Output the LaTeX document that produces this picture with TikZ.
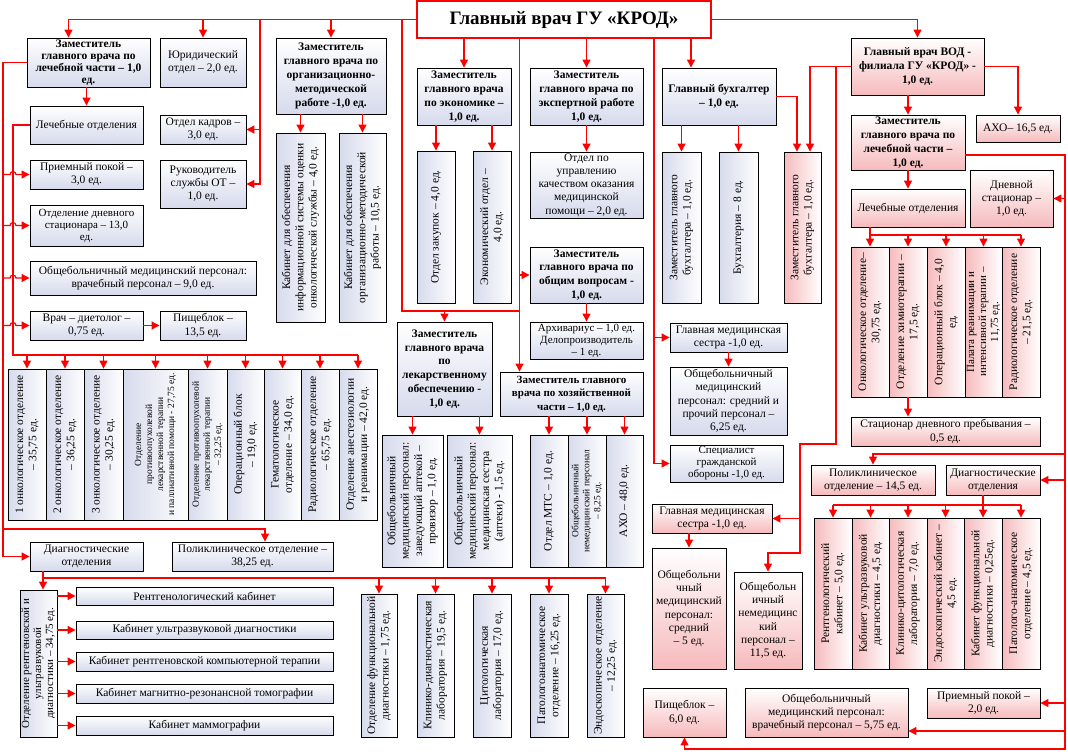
\documentclass[tikz,border=0pt]{standalone}
\usepackage{fontspec}
\setmainfont{Liberation Serif}
\usetikzlibrary{arrows.meta}
\definecolor{boxblue}{RGB}{214,218,236}
\definecolor{boxpink}{RGB}{246,186,188}
\definecolor{linkred}{RGB}{255,0,0}
\tikzset{
  txt/.style={font=\fontsize{11.5}{13.3}\selectfont},
  tight/.style={font=\fontsize{11}{12}\selectfont},
  small/.style={font=\fontsize{9.5}{11}\selectfont},
  box/.style={draw=black, line width=0.9pt, top color=white, bottom color=boxblue,
    inner sep=1pt, align=center, txt},
  pbox/.style={box, bottom color=boxpink},
  head/.style={box, font=\fontsize{11.5}{13.8}\selectfont\bfseries},
  phead/.style={head, bottom color=boxpink},
  rbox/.style={draw=black, line width=0.9pt, left color=boxblue, right color=white,
    rotate=90, inner sep=1pt, align=center, txt},
  prbox/.style={rbox, left color=boxpink},
  chief/.style={draw=linkred, line width=1.2pt, fill=white, inner sep=1pt,
    font=\fontsize{19}{22}\selectfont\bfseries},
  link/.style={draw=linkred, line width=1.2pt},
  arr/.style={link, -{Triangle[length=8pt,width=8pt]}},
}
% box from its corners: [style]{name}{x1}{y1}{x2}{y2}{text}
\newcommand\orgbox[7][box]{%
  \node[#1, minimum width={#5pt-#3pt}, minimum height={#6pt-#4pt}] (#2)
    at ({(#3+#5)/2},{(#4+#6)/2}) {#7};}
% the same, text turned upwards
\newcommand\orgrot[7][rbox]{%
  \node[#1, minimum width={#6pt-#4pt}, minimum height={#5pt-#3pt}] (#2)
    at ({(#3+#5)/2},{(#4+#6)/2}) {#7};}
\begin{document}
\begin{tikzpicture}[x=1pt,y=-1pt]
  \useasboundingbox (0,0) rectangle (1068,752);

  % head
  \orgbox[chief]{glav}{417}{1}{711}{38}{Главный врач ГУ «КРОД»}

  % left column
  \orgbox[head,font=\fontsize{11.5}{12}\selectfont\bfseries]{zl}{27}{38}{150}{87}{Заместитель\\главного врача по\\лечебной части – 1,0\\ед.}
  \orgbox{jur}{160}{38}{246}{87}{Юридический\\отдел – 2,0 ед.}
  \orgbox{lo}{30}{106}{143}{144}{Лечебные отделения}
  \orgbox{kadr}{160}{115}{246}{144}{Отдел кадров –\\3,0 ед.}
  \orgbox{pp}{30}{160}{143}{189}{Приемный покой –\\3,0 ед.}
  \orgbox{ot}{160}{160}{246}{208}{Руководитель\\службы ОТ –\\1,0 ед.}
  \orgbox[box,tight]{ds}{30}{205}{143}{246}{Отделение дневного\\стационара – 13,0\\ед.}
  \orgbox{omp}{30}{261}{256}{295}{Общебольничный медицинский персонал:\\врачебный персонал – 9,0 ед.}
  \orgbox{diet}{30}{311}{143}{340}{Врач – диетолог –\\0,75 ед.}
  \orgbox{pish}{160}{311}{246}{340}{Пищеблок –\\13,5 ед.}

  \orgrot{d1}{8}{369}{46}{520}{1 онкологическое отделение\\– 35,75 ед.}
  \orgrot{d2}{46}{369}{84}{520}{2 онкологическое отделение\\– 36,25 ед.}
  \orgrot{d3}{84}{369}{123}{520}{3 онкологическое отделение\\– 30,25 ед.}
  \orgrot[rbox,small]{d4}{123}{369}{188}{520}{Отделение\\противоопухолевой\\лекарственной терапии\\и паллиативной помощи - 27,75 ед.}
  \orgrot[rbox,small]{d5}{188}{369}{227}{520}{Отделение противоопухолевой\\лекарственной терапии\\– 32,25 ед.}
  \orgrot{d6}{227}{369}{264}{520}{Операционный блок\\– 19,0 ед.}
  \orgrot{d7}{264}{369}{301}{520}{Гематологическое\\отделение – 34,0 ед.}
  \orgrot{d8}{301}{369}{339}{520}{Радиологическое отделение\\– 65,75 ед.}
  \orgrot{d9}{339}{369}{377}{520}{Отделение анестезиологии\\и реанимации – 42,0 ед.}

  \orgbox{diag}{30}{542}{143}{571}{Диагностические\\отделения}
  \orgbox{polik}{172}{542}{333}{571}{Поликлиническое отделение –\\38,25 ед.}
  \orgrot[rbox,tight]{rtg}{20}{590}{57}{737}{Отделение рентгеновской и\\ультразвуковой\\диагностики – 34,75 ед.}
  \orgbox{k1}{76}{587}{333}{605}{Рентгенологический кабинет}
  \orgbox{k2}{76}{621}{333}{639}{Кабинет ультразвуковой диагностики}
  \orgbox{k3}{76}{652}{333}{671}{Кабинет рентгеновской компьютерной терапии}
  \orgbox{k4}{76}{684}{333}{703}{Кабинет магнитно-резонансной томографии}
  \orgbox{k5}{76}{716}{333}{735}{Кабинет маммографии}
  \orgrot{f1}{361}{594}{397}{737}{Отделение функциональной\\диагностики – 1,75 ед.}
  \orgrot{f2}{417}{594}{454}{737}{Клинико-диагностическая\\лаборатория – 19,5 ед.}
  \orgrot{f3}{473}{594}{511}{737}{Цитологическая\\лаборатория – 17,0 ед.}
  \orgrot{f4}{530}{594}{568}{737}{Патологоанатомическое\\отделение – 16,25 ед.}
  \orgrot{f5}{587}{594}{624}{737}{Эндоскопическое отделение\\– 12,25 ед.}

  % middle
  \orgbox[head]{om}{276}{38}{386}{114}{Заместитель\\главного врача по\\организационно-\\методической\\работе -1,0 ед.}
  \orgrot{kab1}{276}{133}{325}{322}{Кабинет для обеспечения\\информационной системы оценки\\онкологической службы – 4,0 ед.}
  \orgrot{kab2}{339}{133}{386}{322}{Кабинет для обеспечения\\организационно-методической\\работы – 10,5 ед.}
  \orgbox[head]{eco}{417}{68}{511}{125}{Заместитель\\главного врача\\по экономике –\\1,0 ед.}
  \orgrot{zak}{417}{151}{455}{303}{Отдел закупок – 4,0 ед.}
  \orgrot{ekon}{473}{151}{511}{303}{Экономический отдел –\\4,0 ед.}
  \orgbox[head]{exp}{530}{68}{643}{125}{Заместитель\\главного врача по\\экспертной работе\\1,0 ед.}
  \orgbox{kach}{530}{152}{643}{218}{Отдел по\\управлению\\качеством оказания\\медицинской\\помощи – 2,0 ед.}
  \orgbox[head]{obv}{530}{247}{643}{303}{Заместитель\\главного врача по\\общим вопросам -\\1,0 ед.}
  \orgbox[box,tight]{arh}{530}{322}{643}{359}{Архивариус – 1,0 ед.\\Делопроизводитель\\– 1 ед.}
  \orgbox[head]{lek}{397}{322}{492}{416}{Заместитель\\главного врача\\по\\лекарственному\\обеспечению -\\1,0 ед.}
  \orgrot{lek1}{382}{435}{443}{567}{Общебольничный\\медицинский персонал:\\заведующий аптекой –\\провизор – 1,0 ед.}
  \orgrot{lek2}{447}{435}{512}{567}{Общебольничный\\медицинский персонал:\\медицинская сестра\\(аптеки) - 1,5 ед.}
  \orgbox[head,font=\fontsize{11}{13.5}\selectfont\bfseries]{hoz}{500}{372}{643}{416}{Заместитель главного\\врача по хозяйственной\\части – 1,0 ед.}
  \orgrot{mts}{530}{435}{568}{567}{Отдел МТС – 1,0 ед.}
  \orgrot[rbox,small]{nmp}{568}{435}{606}{567}{Общебольничный\\немедицинский персонал\\– 8,25 ед.}
  \orgrot{aho}{606}{435}{643}{567}{АХО – 48,0 ед.}
  \orgbox[head]{bukh}{662}{68}{776}{125}{Главный бухгалтер\\– 1,0 ед.}
  \orgrot{zb1}{662}{152}{701}{303}{Заместитель главного\\бухгалтера – 1,0 ед.}
  \orgrot{bux}{719}{152}{758}{303}{Бухгалтерия – 8 ед.}
  \orgrot[prbox]{zb2}{784}{152}{821}{303}{Заместитель главного\\бухгалтера – 1,0 ед.}
  \orgbox{gms}{670}{323}{787}{352}{Главная медицинская\\сестра -1,0 ед.}
  \orgbox{omsp}{670}{367}{787}{435}{Общебольничный\\медицинский\\персонал: средний и\\прочий персонал –\\6,25 ед.}
  \orgbox[box,tight]{go}{670}{445}{783}{482}{Специалист\\гражданской\\обороны -1,0 ед.}

  % branch (VOD)
  \orgbox[phead]{vod}{851}{38}{984}{95}{Главный врач ВОД -\\филиала ГУ «КРОД» -\\1,0 ед.}
  \orgbox[pbox]{ahov}{976}{115}{1060}{142}{АХО– 16,5 ед.}
  \orgbox[phead]{zlv}{851}{115}{965}{170}{Заместитель\\главного врача по\\лечебной части –\\1,0 ед.}
  \orgbox[pbox]{lov}{851}{189}{965}{227}{Лечебные отделения}
  \orgbox[pbox]{dst}{970}{170}{1053}{227}{Дневной\\стационар –\\1,0 ед.}
  \orgrot[prbox]{v1}{851}{247}{889}{397}{Онкологическое отделение–\\30,75 ед.}
  \orgrot[prbox]{v2}{889}{247}{927}{397}{Отделение химиотерапии –\\17,5 ед.}
  \orgrot[prbox]{v3}{927}{247}{965}{397}{Операционный блок – 4,0\\ед.}
  \orgrot[prbox,tight]{v4}{965}{247}{1002}{397}{Палата реанимации и\\интенсивной терапии –\\11,75 ед.}
  \orgrot[prbox]{v5}{1002}{247}{1040}{397}{Радиологическое отделение\\– 21,5 ед.}
  \orgbox[pbox]{stac}{851}{417}{1040}{446}{Стационар дневного пребывания –\\0,5 ед.}
  \orgbox[pbox]{polv}{811}{465}{935}{495}{Поликлиническое\\отделение – 14,5 ед.}
  \orgbox[pbox]{diagv}{946}{465}{1040}{495}{Диагностические\\отделения}
  \orgrot[prbox]{w1}{814}{518}{852}{669}{Рентгенологический\\кабинет – 5,0 ед.}
  \orgrot[prbox]{w2}{852}{518}{889}{669}{Кабинет ультразвуковой\\диагностики – 4,5 ед.}
  \orgrot[prbox]{w3}{889}{518}{927}{669}{Клинико-цитологическая\\лаборатория – 7,0 ед.}
  \orgrot[prbox]{w4}{927}{518}{964}{669}{Эндоскопический кабинет –\\4,5 ед.}
  \orgrot[prbox]{w5}{964}{518}{1002}{669}{Кабинет функциональной\\диагностики – 0,25ед.}
  \orgrot[prbox]{w6}{1002}{518}{1040}{669}{Патолого-анатомическое\\отделение – 4,5 ед.}
  \orgbox[pbox]{ppv}{927}{688}{1040}{718}{Приемный покой –\\2,0 ед.}
  \orgbox[pbox]{ompv}{745}{688}{908}{737}{Общебольничный\\медицинский персонал:\\врачебный персонал – 5,75 ед.}
  \orgbox[pbox]{pishv}{643}{688}{726}{737}{Пищеблок –\\6,0 ед.}
  \orgbox[pbox]{gms2}{652}{504}{772}{533}{Главная медицинская\\сестра -1,0 ед.}
  \orgbox[pbox]{msr}{652}{548}{726}{669}{Общебольни\\чный\\медицинский\\персонал:\\средний\\– 5 ед.}
  \orgbox[pbox]{nemp}{734}{572}{802}{669}{Общебольн\\ичный\\немедицинс\\кий\\персонал –\\11,5 ед.}

  % connectors from the head
  \coordinate (kb) at (260,19.5);
  \coordinate (lb) at (402,311);
  \coordinate (mb) at (519.5,38);
  \coordinate (gb) at (654,38);
  \coordinate (bt) at ([xshift=-28pt]bukh.north);
  \draw[arr] (glav.west) -| ([xshift=-20pt]zl.north);
  \draw[arr] (jur.north |- glav.west) -- (jur.north);
  \draw[arr] (om.north |- glav.west) -- (om.north);
  \draw[arr] (kb) |- (ot.east);
  \draw[arr] (kb |- kadr.east) -- (kadr.east);
  \draw[arr] (lb |- glav.west) -- (lb) -| (lek.north);
  \draw[link] (lb) -- (lb -| mb);
  \draw[arr] (mb) |- (obv.west);
  \draw[arr] (mb) -- (mb |- hoz.north);
  \draw[arr] (eco.north |- glav.south) -- (eco.north);
  \draw[arr] (exp.north |- glav.south) -- (exp.north);
  \draw[arr] (bt |- glav.south) -- (bt);
  \draw[arr] (gb) |- (go.west);
  \draw[arr] (gb |- gms.west) -- (gms.west);
  \draw[arr] (glav.east) -| (vod.north);

  % left column
  \coordinate (sp) at (3,0);
  \coordinate (pb) at (3,529);
  \coordinate (hb) at (13,355);
  \coordinate (db) at (43,578);
  \draw[arr] (lo.north |- zl.south) -- (lo.north);
  \draw[arr] (zl.west) -| (sp |- diag.west) -- (diag.west);
  \draw[arr] (pb) -| ([xshift=12.5pt]polik.north);
  \foreach \n in {pp,ds,omp,diet}
    \draw[arr] (sp |- \n.west) -- ++(7,0) arc[start angle=180,end angle=360,radius=3] -- (\n.west);
  \draw[arr] (diet) -- (pish);
  \draw[link] (lo.west) -| (hb) -- (hb -| d9.east);
  \foreach \n in {d1,d2,d3,d4,d5,d6,d7,d8,d9}
    \draw[arr] (hb -| \n.east) -- (\n.east);
  \draw[link] (db |- diag.south) -- (db) -- (db -| f5.east);
  \draw[arr] (db) -- (db |- rtg.east);
  \foreach \n in {f1,f2,f3,f4,f5}
    \draw[arr] (db -| \n.east) -- (\n.east);
  \foreach \n in {k1,k2,k3,k4,k5}
    \draw[arr] (rtg.south |- \n.west) -- (\n.west);

  % middle
  \foreach \n in {kab1,kab2}
    \draw[arr] (\n.east |- om.south) -- (\n.east);
  \foreach \n in {zak,ekon}
    \draw[arr] (\n.east |- eco.south) -- (\n.east);
  \draw[arr] (exp.south) -- (kach.north);
  \draw[arr] (obv.south) -- (arh.north);
  \foreach \n in {lek1,lek2}
    \draw[arr] (\n.east |- lek.south) -- (\n.east);
  \foreach \n in {mts,nmp,aho}
    \draw[arr] (\n.east |- hoz.south) -- (\n.east);
  \foreach \n in {zb1,bux}
    \draw[arr] (\n.east |- bukh.south) -- (\n.east);
  \draw[arr] (bukh.east) -| ([xshift=-5.5pt]zb2.east);
  \draw[arr] (vod.west) -| ([xshift=7.5pt]zb2.east);
  \draw[arr] (gms.south) -- (omsp.north);

  % branch
  \coordinate (vb) at (0,235);
  \coordinate (wb) at (0,505);
  \coordinate (rs) at (1065,749);
  \coordinate (pvb) at (1065,454);
  \coordinate (ub) at (836,444);
  \coordinate (ub2) at (800,553);
  \coordinate (oe) at ([yshift=-18.5pt]ompv.east);
  \draw[arr] (zlv.north |- vod.south) -- (zlv.north);
  \draw[arr] (vod.east) -| (ahov.north);
  \draw[arr] (zlv.south) -- (lov.north);
  \draw[link] (lov.south -| v1.east) -- (vb -| v1.east) -- (vb -| v5.east);
  \foreach \n in {v1,v2,v3,v4,v5}
    \draw[arr] (vb -| \n.east) -- (\n.east);
  \draw[arr] (v2.west) -- (v2.west |- stac.north);
  \draw[arr] ([yshift=-12.5pt]zlv.east) -| (rs) -| (pishv.south);
  \draw[arr] (rs |- dst.east) -- (dst.east);
  \draw[arr] (pvb) -| (polv.north);
  \draw[arr] (rs |- diagv.east) -- (diagv.east);
  \draw[arr] (rs |- ppv.east) -- (ppv.east);
  \draw[arr] (rs |- oe) -- (oe);
  \draw[link] (w5.east |- diagv.south) -- (wb -| w5.east);
  \draw[link] (wb -| w1.east) -- (wb -| w6.east);
  \foreach \n in {w1,w2,w3,w4,w5,w6}
    \draw[arr] (wb -| \n.east) -- (\n.east);
  \draw[arr] (vod.west) -| (ub) -| (ub2) -| (nemp.north);
  \draw[arr] (ub2 |- gms2.east) -- (gms2.east);
  \draw[arr] (msr.north |- gms2.south) -- (msr.north);
\end{tikzpicture}
\end{document}
